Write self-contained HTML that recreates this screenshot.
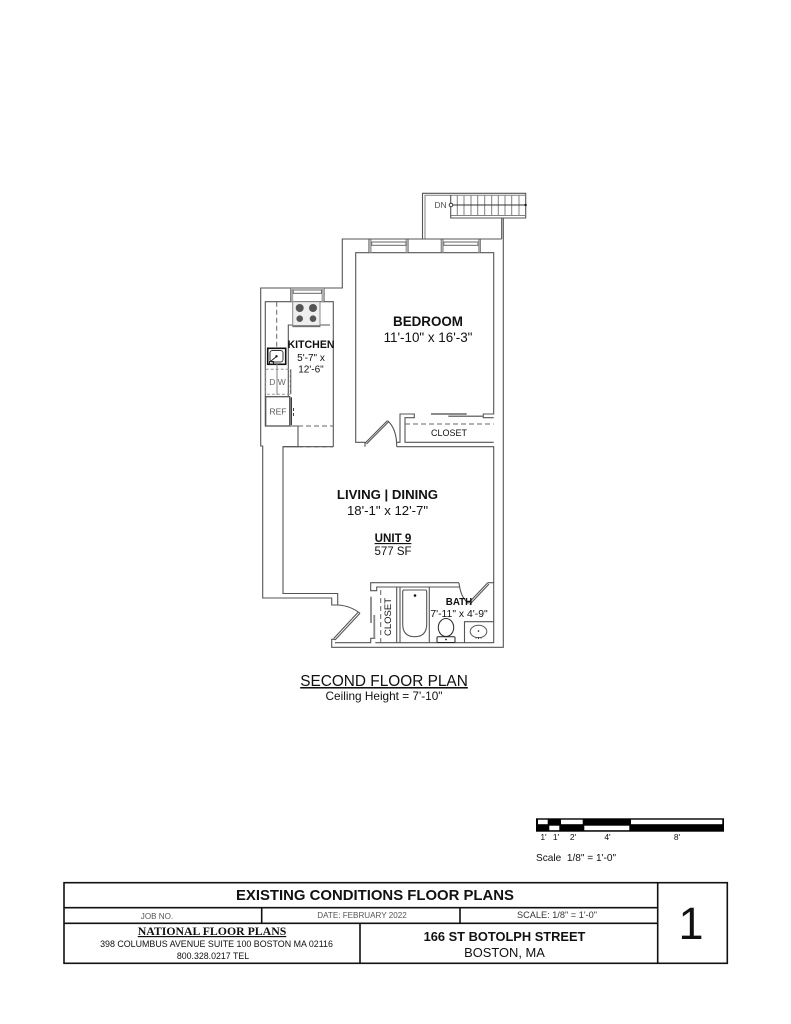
<!DOCTYPE html>
<html lang="en">
<head>
<meta charset="utf-8">
<title>Second Floor Plan</title>
<style>
html,body{margin:0;padding:0;background:#fff;width:791px;height:1024px;overflow:hidden}
svg{display:block;filter:blur(0.35px)}
text{font-family:"Liberation Sans",Arial,sans-serif;fill:#111}
.w{fill:none;stroke:#555;stroke-width:1.1}
.l{fill:none;stroke:#808080;stroke-width:1}
.d{fill:none;stroke:#666;stroke-width:1;stroke-dasharray:5 3}
.k{fill:none;stroke:#111;stroke-width:1.6}
.c{text-anchor:middle}
.b{font-weight:bold}
</style>
</head>
<body>
<svg width="791" height="1024" viewBox="0 0 791 1024" xmlns="http://www.w3.org/2000/svg">
<rect width="791" height="1024" fill="#fff"/>

<!-- outer walls -->
<path class="w" d="M422.500 239V193.300H525.700V218H503.300V647.300H331.700V639.300H335"/>
<path class="l" d="M425 239V195.300H525"/>
<path class="w" d="M501.700 218V239"/>
<path class="w" d="M422.500 239H342.300V288H260.700V446H262.700V598H331.700V605H337.700V593.500H283V446.700H298V426H265.300V301.700H290.700V288"/>
<path class="w" d="M342.300 239H501.700"/>

<!-- stairs -->
<path class="l" d="M450.700 215.500H525.700"/>
<path class="w" d="M450.700 195V218H503"/>
<path class="l" d="M457.300 195V216M464 195V216M471 195V216M477.700 195V216M484.700 195V216M491.700 195V216M498.300 195V216M505 195V216M511.700 195V216M519 195V216"/>
<path d="M452 205H527" stroke="#333" stroke-width="1" fill="none"/>
<circle cx="451" cy="205" r="1.800" fill="#fff" stroke="#333"/>
<circle cx="525.500" cy="205" r="1.100" fill="#111"/>
<text x="440.500" y="208" class="c" font-size="8.500" style="fill:#555">DN</text>

<!-- bedroom -->
<path class="w" d="M365 446.700V442.300H355.700V252.700H493.700V414H483.300V417.700H493.700"/>
<path class="w" d="M369 239.300V252.700M408 239.300V252.700M441.300 239.300V252.700M480.300 239.300V252.700"/>
<rect x="369" y="239.500" width="2.700" height="13" fill="#aaa"/>
<rect x="405.500" y="239.500" width="2.500" height="13" fill="#aaa"/>
<rect x="441.300" y="239.500" width="2.500" height="13" fill="#aaa"/>
<rect x="478" y="239.500" width="2.300" height="13" fill="#aaa"/>
<rect x="371.700" y="242" width="34.300" height="3.300" fill="#fff" stroke="#666"/>
<rect x="443.800" y="242" width="34.200" height="3.300" fill="#fff" stroke="#666"/>

<!-- bedroom door / closet -->
<path class="w" d="M365 443.300L387.300 420.700M366.500 444L388.600 421.700"/>
<path class="w" d="M387.600 420.700C393.500 426 396.800 435 396.700 446.700"/>
<path class="w" d="M396.700 442.300H400V414H414.300V417.700H405V442.300H493.700"/>
<path class="d" d="M405 424H493.700"/>
<path d="M431 414H466.700" stroke="#666" stroke-width="1.500"/>
<path d="M448.300 416.300H483.300" stroke="#777" stroke-width="1.500"/>
<text x="449" y="436" class="c" font-size="9">CLOSET</text>

<!-- kitchen -->
<path class="w" d="M324 288V301.700H333.300V446.700"/>
<path class="w" d="M290.700 301.700H324"/>
<rect x="290.700" y="288" width="2.500" height="13.700" fill="#aaa"/>
<rect x="321.500" y="288" width="2.500" height="13.700" fill="#aaa"/>
<rect x="293.200" y="290" width="28.300" height="3.300" fill="#fff" stroke="#666"/>
<path class="d" d="M298 426H333.300"/>
<path class="d" d="M298 446.700H333.300"/>
<path class="w" d="M288.300 396.700V325H330"/>
<path class="d" d="M276.700 301.700V348"/>

<!-- stove -->
<rect x="292.700" y="301.700" width="27.300" height="25" fill="#eee" stroke="#888"/>
<path d="M293 326H320" stroke="#666" stroke-width="1.500"/>
<circle cx="299.700" cy="308" r="4" fill="#555"/>
<circle cx="313" cy="308" r="4" fill="#555"/>
<circle cx="299.700" cy="318.700" r="3.300" fill="#555"/>
<circle cx="313" cy="318.700" r="3.300" fill="#555"/>

<!-- sink -->
<rect x="267.700" y="348.300" width="18" height="16" fill="#fff" stroke="#111" stroke-width="1.600"/>
<rect x="270" y="350.500" width="13" height="11.500" rx="2.500" fill="#fff" stroke="#333"/>
<circle cx="276.500" cy="356.300" r="1.200" fill="#111"/>
<path d="M271 361L276.500 356.500M269.500 361.500H273.500V364H269.500Z" fill="none" stroke="#222"/>

<!-- dishwasher -->
<rect x="265.700" y="369.300" width="24.600" height="25" fill="none" stroke="#999" stroke-dasharray="3 2"/>
<path class="l" d="M277 364V395"/>
<path d="M290.800 369.300V394.300" stroke="#555"/>
<text x="277.500" y="385" class="c" font-size="8.500" style="fill:#666">D W</text>

<!-- ref -->
<rect x="265.700" y="396.700" width="24" height="29.300" fill="#fff" stroke="#555" stroke-width="1.300"/>
<path d="M291.300 397.300V425" stroke="#333" stroke-width="1.300"/>
<path d="M293.500 408V411M293.500 413V416" stroke="#444"/>
<text x="278" y="414.500" class="c" font-size="8.500" style="fill:#555">REF</text>

<text x="311" y="348" class="c b" font-size="10.600">KITCHEN</text>
<text x="311" y="361" class="c" font-size="10">5'-7" x</text>
<text x="311" y="372.500" class="c" font-size="10">12'-6"</text>

<text x="428" y="326" class="c b" font-size="13.400">BEDROOM</text>
<text x="428" y="342" class="c" font-size="13.400">11'-10" x 16'-3"</text>

<!-- living -->
<path class="w" d="M283 446.700H333.300"/>
<path class="w" d="M396.700 446.700H493.700V582.700H487.700"/>
<path class="w" d="M487.700 582.700L468.300 603.300M489 584L469.700 604.500"/>

<text x="387.500" y="499" class="c b" font-size="13.200">LIVING | DINING</text>
<text x="387.500" y="515" class="c" font-size="13.200">18'-1" x 12'-7"</text>
<text x="393" y="542" class="c b" font-size="11.600" text-decoration="underline">UNIT 9</text>
<text x="393" y="555" class="c" font-size="11.500">577 SF</text>

<!-- entry door -->
<path class="w" d="M337.700 605C346 605.500 354 608.500 360 613.300"/>
<path class="w" d="M360 613.300L335 640M358 612.400L333.700 638.500" stroke-width="1.300"/>
<path class="w" d="M335 642.700H370.700V638.300H375.300"/>

<!-- bath & closet -->
<path class="w" d="M459 582.700H370.700V590.700H376.700V587H459"/>
<path class="w" d="M375.300 642.700H493.700M396.700 587V642.700M400 587V642.700M429.300 587V642.700M493.700 582.700V643"/>
<path class="w" d="M459 583C460 591 462 598 468.300 603.300"/>
<path d="M371 596.700V623" stroke="#888" stroke-width="1.800"/>
<path d="M374.300 615V638.300" stroke="#888" stroke-width="1.800"/>
<path class="d" d="M380.700 590V642.700"/>
<text transform="translate(391 617) rotate(-90)" class="c" font-size="9.500">CLOSET</text>

<!-- tub -->
<path class="w" d="M404 590H425.500Q426.700 590 426.700 592V624Q426.700 636.700 414.700 636.700Q402.700 636.700 402.700 624V592Q402.700 590 404 590Z" stroke="#777"/>
<circle cx="415" cy="595.500" r="1.300" fill="#111"/>

<!-- toilet & sink -->
<ellipse cx="446" cy="627.500" rx="7.700" ry="9" fill="#fff" stroke="#333" stroke-width="1.100"/>
<rect x="437" y="636.700" width="18" height="5.800" rx="1" fill="#fff" stroke="#222"/>
<circle cx="446" cy="639.500" r="0.900" fill="#111"/>
<path class="w" d="M464.500 642.700V621.700H493.700"/>
<ellipse cx="478.500" cy="631.500" rx="8.300" ry="6.200" fill="#fff" stroke="#555"/>
<circle cx="478.500" cy="631" r="0.800" fill="#111"/>
<path d="M476 637V638.500M478.500 637V639M481 637V638.500" stroke="#333"/>

<text x="459" y="605" class="c b" font-size="9.800">BATH</text>
<text x="459" y="617" class="c" font-size="10.400">7'-11" x 4'-9"</text>

<!-- caption -->
<text x="384" y="686" class="c" font-size="15.400" text-decoration="underline">SECOND FLOOR PLAN</text>
<text x="384" y="700" class="c" font-size="11.800">Ceiling Height = 7'-10"</text>

<!-- scale bar -->
<rect x="536" y="818.300" width="188" height="13.400" fill="#000"/>
<g fill="#fff">
<rect x="538" y="819.700" width="9.700" height="4.500"/>
<rect x="561" y="819.700" width="21.700" height="4.500"/>
<rect x="631" y="819.700" width="91.300" height="4.500"/>
<rect x="549.300" y="825.700" width="10" height="4.500"/>
<rect x="584.300" y="825.700" width="45" height="4.500"/>
</g>
<text x="543.500" y="840" class="c" font-size="8.500">1'</text>
<text x="556" y="840" class="c" font-size="8.500">1'</text>
<text x="573" y="840" class="c" font-size="8.500">2'</text>
<text x="607.500" y="840" class="c" font-size="8.500">4'</text>
<text x="677" y="840" class="c" font-size="8.500">8'</text>
<text x="536" y="861" font-size="10.100">Scale&#160; 1/8" = 1'-0"</text>

<!-- title block -->
<rect x="64" y="882.700" width="663.300" height="80.600" class="k"/>
<path class="k" d="M657.700 882.700V963.300M64 907.700H657.700M64 923.300H657.700M261.700 907.700V923.300M460 907.700V923.300M360 923.300V963.300"/>
<text x="375" y="900" class="c b" font-size="14.900">EXISTING CONDITIONS FLOOR PLANS</text>
<text x="157" y="919" class="c" font-size="8.100" style="fill:#555">JOB NO.</text>
<text x="362" y="918" class="c" font-size="8.100" style="fill:#555">DATE: FEBRUARY 2022</text>
<text x="557" y="918" class="c" font-size="9.200" style="fill:#333">SCALE: 1/8" = 1'-0"</text>
<text x="212" y="935" class="c b" font-size="11.800" text-decoration="underline" style="font-family:'Liberation Serif',serif">NATIONAL FLOOR PLANS</text>
<text x="216.500" y="947" class="c" font-size="8.900">398 COLUMBUS AVENUE SUITE 100 BOSTON MA 02116</text>
<text x="213" y="959" class="c" font-size="8.800">800.328.0217 TEL</text>
<text x="504.500" y="941" class="c b" font-size="12.850">166 ST BOTOLPH STREET</text>
<text x="504.500" y="957" class="c" font-size="12.900">BOSTON, MA</text>
<text x="691" y="939" class="c" font-size="45">1</text>
</svg>
</body>
</html>
